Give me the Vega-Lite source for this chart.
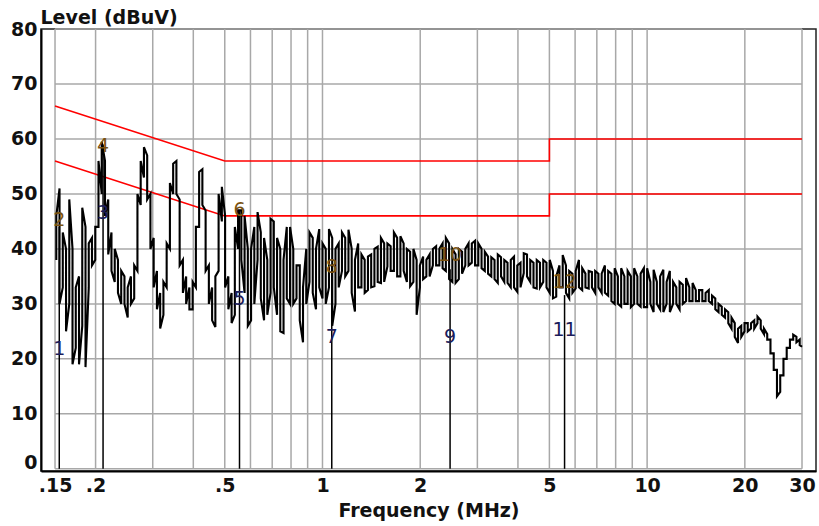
{
  "$schema": "https://vega.github.io/schema/vega-lite/v6.json",
  "width": 775,
  "height": 442,
  "autosize": "none",
  "padding": {"left": 41, "top": 29, "right": 3, "bottom": 55},
  "background": "white",
  "config": {
    "view": {"stroke": "#222", "strokeWidth": 1.5},
    "axis": {
      "labelFont": "DejaVu Sans", "labelFontWeight": "bold", "labelFontSize": 19, "labelColor": "#111",
      "titleFont": "DejaVu Sans", "titleFontWeight": "bold", "titleFontSize": 19, "titleColor": "#111",
      "grid": false, "ticks": false, "tickSize": 0, "domainColor": "#000", "domainWidth": 2,
      "labelOverlap": false, "labelFlush": false, "labelBound": false
    }
  },
  "datasets": {
    "vgrid": [{"f":0.15},{"f":0.2},{"f":0.3},{"f":0.4},{"f":0.5},{"f":0.6},{"f":0.7},{"f":0.8},{"f":0.9},{"f":1},{"f":2},{"f":3},{"f":4},{"f":5},{"f":6},{"f":7},{"f":8},{"f":9},{"f":10},{"f":20},{"f":30}],
    "hgrid": [{"v":0},{"v":10},{"v":20},{"v":30},{"v":40},{"v":50},{"v":60},{"v":70},{"v":80}],
    "limits": [
      {"k":"qp","o":0,"f":0.15,"v":66},{"k":"qp","o":1,"f":0.5,"v":56},{"k":"qp","o":2,"f":5,"v":56},{"k":"qp","o":3,"f":5,"v":60},{"k":"qp","o":4,"f":30,"v":60},
      {"k":"av","o":0,"f":0.15,"v":56},{"k":"av","o":1,"f":0.5,"v":46},{"k":"av","o":2,"f":5,"v":46},{"k":"av","o":3,"f":5,"v":50},{"k":"av","o":4,"f":30,"v":50}
    ],
    "markers": [
      {"f":0.1546,"v":44},{"f":0.2109,"v":59},{"f":0.5551,"v":47},{"f":1.068,"v":37},{"f":2.472,"v":36.3},{"f":5.568,"v":31.6}
    ],
    "labels": [
      {"n":"1","f":0.1546,"v":21.8},{"n":"2","f":0.1546,"v":45.3},{"n":"3","f":0.2109,"v":46.5},{"n":"4","f":0.2109,"v":58.7},
      {"n":"5","f":0.5551,"v":30.9},{"n":"6","f":0.5551,"v":47.1},{"n":"7","f":1.068,"v":24},{"n":"8","f":1.068,"v":36.7},
      {"n":"9","f":2.472,"v":24},{"n":"10","f":2.472,"v":38.9},{"n":"11","f":5.568,"v":25.3},{"n":"12","f":5.568,"v":34}
    ],
    "trace": [
{"i":0,"f":0.15136,"v":38},{"i":1,"f":0.15136,"v":46},{"i":2,"f":0.15488,"v":51},{"i":3,"f":0.15488,"v":30},
{"i":4,"f":0.15849,"v":33},{"i":5,"f":0.15849,"v":43},{"i":6,"f":0.16218,"v":40},{"i":7,"f":0.16218,"v":25},
{"i":8,"f":0.16596,"v":30},{"i":9,"f":0.16596,"v":49},{"i":10,"f":0.16982,"v":40},{"i":11,"f":0.16982,"v":19},
{"i":12,"f":0.17378,"v":22},{"i":13,"f":0.17378,"v":33},{"i":14,"f":0.17783,"v":35},{"i":15,"f":0.17783,"v":19},
{"i":16,"f":0.18197,"v":26},{"i":17,"f":0.18197,"v":47.5},{"i":18,"f":0.18621,"v":44},{"i":19,"f":0.18621,"v":18.5},
{"i":20,"f":0.19055,"v":33},{"i":21,"f":0.19055,"v":41},{"i":22,"f":0.19498,"v":42},{"i":23,"f":0.19498,"v":37},
{"i":24,"f":0.19953,"v":38},{"i":25,"f":0.19953,"v":44},{"i":26,"f":0.20417,"v":44},{"i":27,"f":0.20417,"v":56},
{"i":28,"f":0.20893,"v":50},{"i":29,"f":0.20893,"v":59.5},{"i":30,"f":0.2138,"v":56},{"i":31,"f":0.2138,"v":46},
{"i":32,"f":0.21878,"v":49},{"i":33,"f":0.21878,"v":39},{"i":34,"f":0.22387,"v":43},{"i":35,"f":0.22387,"v":36},
{"i":36,"f":0.22909,"v":34},{"i":37,"f":0.22909,"v":40},{"i":38,"f":0.23442,"v":38},{"i":39,"f":0.23442,"v":32},
{"i":40,"f":0.23988,"v":30},{"i":41,"f":0.23988,"v":36},{"i":42,"f":0.24547,"v":35},{"i":43,"f":0.24547,"v":30},
{"i":44,"f":0.25119,"v":27.5},{"i":45,"f":0.25119,"v":33},{"i":46,"f":0.25704,"v":35},{"i":47,"f":0.25704,"v":30},
{"i":48,"f":0.26303,"v":31},{"i":49,"f":0.26303,"v":37},{"i":50,"f":0.26915,"v":36},{"i":51,"f":0.26915,"v":50},
{"i":52,"f":0.27542,"v":48},{"i":53,"f":0.27542,"v":56},{"i":54,"f":0.28184,"v":53},{"i":55,"f":0.28184,"v":58.5},
{"i":56,"f":0.2884,"v":57},{"i":57,"f":0.2884,"v":49},{"i":58,"f":0.29512,"v":50},{"i":59,"f":0.29512,"v":40},
{"i":60,"f":0.302,"v":42},{"i":61,"f":0.302,"v":33},{"i":62,"f":0.30903,"v":36},{"i":63,"f":0.30903,"v":29},
{"i":64,"f":0.31623,"v":32},{"i":65,"f":0.31623,"v":25.5},{"i":66,"f":0.32359,"v":28},{"i":67,"f":0.32359,"v":34},
{"i":68,"f":0.33113,"v":33},{"i":69,"f":0.33113,"v":41},{"i":70,"f":0.33884,"v":40},{"i":71,"f":0.33884,"v":52},
{"i":72,"f":0.34674,"v":50},{"i":73,"f":0.34674,"v":55.5},{"i":74,"f":0.35481,"v":56},{"i":75,"f":0.35481,"v":50},
{"i":76,"f":0.36308,"v":49},{"i":77,"f":0.36308,"v":37},{"i":78,"f":0.37154,"v":38},{"i":79,"f":0.37154,"v":32},
{"i":80,"f":0.38019,"v":35},{"i":81,"f":0.38019,"v":30},{"i":82,"f":0.38905,"v":33},{"i":83,"f":0.38905,"v":29},
{"i":84,"f":0.39811,"v":29},{"i":85,"f":0.39811,"v":34},{"i":86,"f":0.40738,"v":33},{"i":87,"f":0.40738,"v":44},
{"i":88,"f":0.41687,"v":44},{"i":89,"f":0.41687,"v":54},{"i":90,"f":0.42658,"v":54.5},{"i":91,"f":0.42658,"v":48},
{"i":92,"f":0.43652,"v":47},{"i":93,"f":0.43652,"v":36},{"i":94,"f":0.44668,"v":37},{"i":95,"f":0.44668,"v":30},
{"i":96,"f":0.45709,"v":33},{"i":97,"f":0.45709,"v":27},{"i":98,"f":0.46774,"v":25.8},{"i":99,"f":0.46774,"v":35},
{"i":100,"f":0.47863,"v":36},{"i":101,"f":0.47863,"v":50},{"i":102,"f":0.48978,"v":45},{"i":103,"f":0.48978,"v":51.3},
{"i":104,"f":0.50119,"v":46},{"i":105,"f":0.50119,"v":33},{"i":106,"f":0.51286,"v":35},{"i":107,"f":0.51286,"v":29},
{"i":108,"f":0.52481,"v":32},{"i":109,"f":0.52481,"v":26.5},{"i":110,"f":0.53703,"v":28},{"i":111,"f":0.53703,"v":44},
{"i":112,"f":0.54954,"v":40},{"i":113,"f":0.54954,"v":47},{"i":114,"f":0.56234,"v":47},{"i":115,"f":0.56234,"v":38},
{"i":116,"f":0.57544,"v":32},{"i":117,"f":0.57544,"v":46},{"i":118,"f":0.58884,"v":40},{"i":119,"f":0.58884,"v":26},
{"i":120,"f":0.60256,"v":27},{"i":121,"f":0.60256,"v":40},{"i":122,"f":0.6166,"v":44},{"i":123,"f":0.6166,"v":30},
{"i":124,"f":0.63096,"v":38},{"i":125,"f":0.63096,"v":46.7},{"i":126,"f":0.64565,"v":43},{"i":127,"f":0.64565,"v":31},
{"i":128,"f":0.66069,"v":27},{"i":129,"f":0.66069,"v":42},{"i":130,"f":0.67608,"v":38},{"i":131,"f":0.67608,"v":28},
{"i":132,"f":0.69183,"v":32},{"i":133,"f":0.69183,"v":45.5},{"i":134,"f":0.70795,"v":45},{"i":135,"f":0.70795,"v":33},
{"i":136,"f":0.72444,"v":28},{"i":137,"f":0.72444,"v":42},{"i":138,"f":0.74131,"v":40},{"i":139,"f":0.74131,"v":25},
{"i":140,"f":0.75858,"v":24.7},{"i":141,"f":0.75858,"v":38},{"i":142,"f":0.77625,"v":44},{"i":143,"f":0.77625,"v":31},
{"i":144,"f":0.79433,"v":30},{"i":145,"f":0.79433,"v":44},{"i":146,"f":0.81283,"v":40},{"i":147,"f":0.81283,"v":30},
{"i":148,"f":0.83176,"v":31},{"i":149,"f":0.83176,"v":37},{"i":150,"f":0.85114,"v":37},{"i":151,"f":0.85114,"v":27},
{"i":152,"f":0.87096,"v":23},{"i":153,"f":0.87096,"v":33},{"i":154,"f":0.89125,"v":40},{"i":155,"f":0.89125,"v":30},
{"i":156,"f":0.91201,"v":34},{"i":157,"f":0.91201,"v":43},{"i":158,"f":0.93325,"v":42},{"i":159,"f":0.93325,"v":32},
{"i":160,"f":0.95499,"v":29},{"i":161,"f":0.95499,"v":40},{"i":162,"f":0.97724,"v":43.6},{"i":163,"f":0.97724,"v":33},
{"i":164,"f":1.0,"v":31},{"i":165,"f":1.0,"v":41},{"i":166,"f":1.0233,"v":40},{"i":167,"f":1.0233,"v":30},
{"i":168,"f":1.0471,"v":33},{"i":169,"f":1.0471,"v":43.6},{"i":170,"f":1.0715,"v":42},{"i":171,"f":1.0715,"v":26},
{"i":172,"f":1.0965,"v":30},{"i":173,"f":1.0965,"v":40},{"i":174,"f":1.122,"v":41},{"i":175,"f":1.122,"v":33},
{"i":176,"f":1.1482,"v":36},{"i":177,"f":1.1482,"v":43},{"i":178,"f":1.1749,"v":42},{"i":179,"f":1.1749,"v":35},
{"i":180,"f":1.2023,"v":36},{"i":181,"f":1.2023,"v":43.5},{"i":182,"f":1.2303,"v":40},{"i":183,"f":1.2303,"v":32},
{"i":184,"f":1.2589,"v":28.6},{"i":185,"f":1.2589,"v":38},{"i":186,"f":1.2882,"v":41},{"i":187,"f":1.2882,"v":33},
{"i":188,"f":1.3183,"v":33},{"i":189,"f":1.3183,"v":39},{"i":190,"f":1.349,"v":38},{"i":191,"f":1.349,"v":32},
{"i":192,"f":1.3804,"v":32.5},{"i":193,"f":1.3804,"v":38.6},{"i":194,"f":1.4125,"v":39},{"i":195,"f":1.4125,"v":33},
{"i":196,"f":1.4454,"v":33.2},{"i":197,"f":1.4454,"v":40},{"i":198,"f":1.4791,"v":40.4},{"i":199,"f":1.4791,"v":34},
{"i":200,"f":1.5136,"v":33.8},{"i":201,"f":1.5136,"v":42},{"i":202,"f":1.5488,"v":41},{"i":203,"f":1.5488,"v":34},
{"i":204,"f":1.5849,"v":36.8},{"i":205,"f":1.5849,"v":41},{"i":206,"f":1.6218,"v":40.5},{"i":207,"f":1.6218,"v":36},
{"i":208,"f":1.6596,"v":36},{"i":209,"f":1.6596,"v":43},{"i":210,"f":1.6982,"v":42},{"i":211,"f":1.6982,"v":35},
{"i":212,"f":1.7378,"v":35},{"i":213,"f":1.7378,"v":42.3},{"i":214,"f":1.7783,"v":41},{"i":215,"f":1.7783,"v":36},
{"i":216,"f":1.8197,"v":34},{"i":217,"f":1.8197,"v":40},{"i":218,"f":1.8621,"v":39.5},{"i":219,"f":1.8621,"v":33.2},
{"i":220,"f":1.9055,"v":34},{"i":221,"f":1.9055,"v":40},{"i":222,"f":1.9498,"v":38},{"i":223,"f":1.9498,"v":28},
{"i":224,"f":1.9953,"v":33},{"i":225,"f":1.9953,"v":37},{"i":226,"f":2.0417,"v":38.6},{"i":227,"f":2.0417,"v":34.5},
{"i":228,"f":2.0893,"v":35},{"i":229,"f":2.0893,"v":38},{"i":230,"f":2.138,"v":39},{"i":231,"f":2.138,"v":35},
{"i":232,"f":2.1878,"v":37},{"i":233,"f":2.1878,"v":40},{"i":234,"f":2.2387,"v":40.5},{"i":235,"f":2.2387,"v":37},
{"i":236,"f":2.2909,"v":37},{"i":237,"f":2.2909,"v":40},{"i":238,"f":2.3442,"v":41},{"i":239,"f":2.3442,"v":36.5},
{"i":240,"f":2.3988,"v":36},{"i":241,"f":2.3988,"v":42},{"i":242,"f":2.4547,"v":41},{"i":243,"f":2.4547,"v":34.5},
{"i":244,"f":2.5119,"v":34},{"i":245,"f":2.5119,"v":40},{"i":246,"f":2.5704,"v":39},{"i":247,"f":2.5704,"v":33.8},
{"i":248,"f":2.6303,"v":34.5},{"i":249,"f":2.6303,"v":40},{"i":250,"f":2.6915,"v":39.5},{"i":251,"f":2.6915,"v":35.5},
{"i":252,"f":2.7542,"v":37},{"i":253,"f":2.7542,"v":40},{"i":254,"f":2.8184,"v":41},{"i":255,"f":2.8184,"v":37},
{"i":256,"f":2.884,"v":37.5},{"i":257,"f":2.884,"v":41},{"i":258,"f":2.9512,"v":41.5},{"i":259,"f":2.9512,"v":37},
{"i":260,"f":3.02,"v":37},{"i":261,"f":3.02,"v":41},{"i":262,"f":3.0903,"v":40},{"i":263,"f":3.0903,"v":36.5},
{"i":264,"f":3.1623,"v":36},{"i":265,"f":3.1623,"v":39.5},{"i":266,"f":3.2359,"v":38.6},{"i":267,"f":3.2359,"v":35.5},
{"i":268,"f":3.3113,"v":35},{"i":269,"f":3.3113,"v":38.5},{"i":270,"f":3.3884,"v":38},{"i":271,"f":3.3884,"v":34.5},
{"i":272,"f":3.4674,"v":33.8},{"i":273,"f":3.4674,"v":39},{"i":274,"f":3.5481,"v":38.5},{"i":275,"f":3.5481,"v":35},
{"i":276,"f":3.6308,"v":34},{"i":277,"f":3.6308,"v":38},{"i":278,"f":3.7154,"v":37.5},{"i":279,"f":3.7154,"v":33.8},
{"i":280,"f":3.8019,"v":33},{"i":281,"f":3.8019,"v":38},{"i":282,"f":3.8905,"v":38.6},{"i":283,"f":3.8905,"v":33},
{"i":284,"f":3.9811,"v":32.2},{"i":285,"f":3.9811,"v":37},{"i":286,"f":4.0738,"v":37.5},{"i":287,"f":4.0738,"v":33},
{"i":288,"f":4.1687,"v":35.6},{"i":289,"f":4.1687,"v":39.2},{"i":290,"f":4.2658,"v":39},{"i":291,"f":4.2658,"v":35},
{"i":292,"f":4.3652,"v":34},{"i":293,"f":4.3652,"v":38},{"i":294,"f":4.4668,"v":37.5},{"i":295,"f":4.4668,"v":33},
{"i":296,"f":4.5709,"v":32.8},{"i":297,"f":4.5709,"v":38},{"i":298,"f":4.6774,"v":37.5},{"i":299,"f":4.6774,"v":33},
{"i":300,"f":4.7863,"v":34},{"i":301,"f":4.7863,"v":38},{"i":302,"f":4.8978,"v":37.5},{"i":303,"f":4.8978,"v":33},
{"i":304,"f":5.0119,"v":32},{"i":305,"f":5.0119,"v":38},{"i":306,"f":5.1286,"v":36},{"i":307,"f":5.1286,"v":31},
{"i":308,"f":5.2481,"v":31.3},{"i":309,"f":5.2481,"v":35},{"i":310,"f":5.3703,"v":37},{"i":311,"f":5.3703,"v":33},
{"i":312,"f":5.4954,"v":33},{"i":313,"f":5.4954,"v":38.9},{"i":314,"f":5.6234,"v":37},{"i":315,"f":5.6234,"v":32},
{"i":316,"f":5.7544,"v":31},{"i":317,"f":5.7544,"v":36},{"i":318,"f":5.8884,"v":35.5},{"i":319,"f":5.8884,"v":32},
{"i":320,"f":6.0256,"v":32.8},{"i":321,"f":6.0256,"v":36},{"i":322,"f":6.166,"v":38},{"i":323,"f":6.166,"v":33},
{"i":324,"f":6.3096,"v":32.5},{"i":325,"f":6.3096,"v":36.5},{"i":326,"f":6.4565,"v":35.5},{"i":327,"f":6.4565,"v":33},
{"i":328,"f":6.6069,"v":32.8},{"i":329,"f":6.6069,"v":36},{"i":330,"f":6.7608,"v":35.8},{"i":331,"f":6.7608,"v":33},
{"i":332,"f":6.9183,"v":32},{"i":333,"f":6.9183,"v":36},{"i":334,"f":7.0795,"v":35.5},{"i":335,"f":7.0795,"v":33},
{"i":336,"f":7.2444,"v":32},{"i":337,"f":7.2444,"v":35.5},{"i":338,"f":7.4131,"v":37},{"i":339,"f":7.4131,"v":32},
{"i":340,"f":7.5858,"v":31.5},{"i":341,"f":7.5858,"v":36},{"i":342,"f":7.7625,"v":35.5},{"i":343,"f":7.7625,"v":30.5},
{"i":344,"f":7.9433,"v":30},{"i":345,"f":7.9433,"v":36.5},{"i":346,"f":8.1283,"v":35},{"i":347,"f":8.1283,"v":30},
{"i":348,"f":8.3176,"v":29.5},{"i":349,"f":8.3176,"v":36.5},{"i":350,"f":8.5114,"v":35},{"i":351,"f":8.5114,"v":30},
{"i":352,"f":8.7096,"v":30},{"i":353,"f":8.7096,"v":36},{"i":354,"f":8.9125,"v":35},{"i":355,"f":8.9125,"v":29.4},
{"i":356,"f":9.1201,"v":30},{"i":357,"f":9.1201,"v":36.5},{"i":358,"f":9.3325,"v":35},{"i":359,"f":9.3325,"v":30},
{"i":360,"f":9.5499,"v":29.5},{"i":361,"f":9.5499,"v":35.5},{"i":362,"f":9.7724,"v":36.5},{"i":363,"f":9.7724,"v":29.4},
{"i":364,"f":10,"v":29.4},{"i":365,"f":10,"v":36.5},{"i":366,"f":10.233,"v":34},{"i":367,"f":10.233,"v":30},
{"i":368,"f":10.471,"v":28.5},{"i":369,"f":10.471,"v":36.2},{"i":370,"f":10.715,"v":34},{"i":371,"f":10.715,"v":30},
{"i":372,"f":10.965,"v":29},{"i":373,"f":10.965,"v":35},{"i":374,"f":11.22,"v":36.2},{"i":375,"f":11.22,"v":28.5},
{"i":376,"f":11.482,"v":30},{"i":377,"f":11.482,"v":34},{"i":378,"f":11.749,"v":36},{"i":379,"f":11.749,"v":28.5},
{"i":380,"f":12.023,"v":30},{"i":381,"f":12.023,"v":34},{"i":382,"f":12.303,"v":33},{"i":383,"f":12.303,"v":30},
{"i":384,"f":12.589,"v":29},{"i":385,"f":12.589,"v":34},{"i":386,"f":12.882,"v":33.5},{"i":387,"f":12.882,"v":30},
{"i":388,"f":13.183,"v":30.5},{"i":389,"f":13.183,"v":34.7},{"i":390,"f":13.49,"v":33},{"i":391,"f":13.49,"v":30.5},
{"i":392,"f":13.804,"v":30.5},{"i":393,"f":13.804,"v":33.8},{"i":394,"f":14.125,"v":32.5},{"i":395,"f":14.125,"v":30.5},
{"i":396,"f":14.454,"v":30.5},{"i":397,"f":14.454,"v":32.5},{"i":398,"f":14.791,"v":32.5},{"i":399,"f":14.791,"v":30.5},
{"i":400,"f":15.136,"v":30.5},{"i":401,"f":15.136,"v":32},{"i":402,"f":15.488,"v":32.5},{"i":403,"f":15.488,"v":30.5},
{"i":404,"f":15.849,"v":30},{"i":405,"f":15.849,"v":31.5},{"i":406,"f":16.218,"v":31},{"i":407,"f":16.218,"v":29},
{"i":408,"f":16.596,"v":28.5},{"i":409,"f":16.596,"v":30},{"i":410,"f":16.982,"v":29.5},{"i":411,"f":16.982,"v":28},
{"i":412,"f":17.378,"v":27.5},{"i":413,"f":17.378,"v":29},{"i":414,"f":17.783,"v":28.5},{"i":415,"f":17.783,"v":26.5},
{"i":416,"f":18.197,"v":25.5},{"i":417,"f":18.197,"v":27.5},{"i":418,"f":18.621,"v":26.5},{"i":419,"f":18.621,"v":24},
{"i":420,"f":19.055,"v":22.9},{"i":421,"f":19.055,"v":25.5},{"i":422,"f":19.498,"v":26},{"i":423,"f":19.498,"v":24},
{"i":424,"f":19.953,"v":25},{"i":425,"f":19.953,"v":26.5},{"i":426,"f":20.417,"v":26.5},{"i":427,"f":20.417,"v":25},
{"i":428,"f":20.893,"v":25.5},{"i":429,"f":20.893,"v":26.5},{"i":430,"f":21.38,"v":27},{"i":431,"f":21.38,"v":25.5},
{"i":432,"f":21.878,"v":26.5},{"i":433,"f":21.878,"v":27.7},{"i":434,"f":22.387,"v":27},{"i":435,"f":22.387,"v":25.5},
{"i":436,"f":22.909,"v":24.5},{"i":437,"f":22.909,"v":25.5},{"i":438,"f":23.442,"v":24.5},{"i":439,"f":23.442,"v":23.5},
{"i":440,"f":23.988,"v":23.5},{"i":441,"f":23.988,"v":21},{"i":442,"f":24.547,"v":21},{"i":443,"f":24.547,"v":18},
{"i":444,"f":25.119,"v":18},{"i":445,"f":25.119,"v":13.2},{"i":446,"f":25.704,"v":14},{"i":447,"f":25.704,"v":17},
{"i":448,"f":26.303,"v":17},{"i":449,"f":26.303,"v":20},{"i":450,"f":26.915,"v":20},{"i":451,"f":26.915,"v":22},
{"i":452,"f":27.542,"v":22},{"i":453,"f":27.542,"v":23.5},{"i":454,"f":28.184,"v":23.5},{"i":455,"f":28.184,"v":24.4},
{"i":456,"f":28.84,"v":24},{"i":457,"f":28.84,"v":23},{"i":458,"f":29.512,"v":23.5},{"i":459,"f":29.512,"v":22.5},
{"i":460,"f":30,"v":22.2}
    ]
  },
  "layer": [
    {
      "data": {"name": "vgrid"},
      "mark": {"type": "rule", "color": "#a8a8a8", "strokeWidth": 1.5},
      "encoding": {
        "x": {
          "field": "f", "type": "quantitative",
          "scale": {"type": "log", "domain": [0.1358, 33.13], "nice": false},
          "axis": {
            "values": [0.15,0.2,0.3,0.4,0.5,0.6,0.7,0.8,0.9,1,2,3,4,5,6,7,8,9,10,20,30],
            "labelExpr": "datum.value == 0.15 ? '.15' : datum.value == 0.2 ? '.2' : datum.value == 0.5 ? '.5' : (datum.value == 1 || datum.value == 2 || datum.value == 5 || datum.value == 10 || datum.value == 20 || datum.value == 30) ? '' + datum.value : ''",
            "labelPadding": 5,
            "title": "Frequency (MHz)",
            "titlePadding": 6
          }
        },
        "y": {
          "datum": 0, "type": "quantitative",
          "scale": {"domain": [-0.4, 80], "nice": false, "zero": false},
          "axis": {
            "values": [0,10,20,30,40,50,60,70,80],
            "labelPadding": 4,
            "labelBaseline": {"condition": {"test": "datum.value == 0", "value": "alphabetic"}, "value": "middle"},
            "title": "Level (dBuV)",
            "titleAngle": 0, "titleAlign": "left", "titleBaseline": "alphabetic",
            "titleX": -1, "titleY": -6
          }
        },
        "y2": {"datum": 80}
      }
    },
    {
      "data": {"name": "hgrid"},
      "mark": {"type": "rule", "color": "#a8a8a8", "strokeWidth": 1.5},
      "encoding": {
        "y": {"field": "v", "type": "quantitative"},
        "x": {"datum": 0.15, "type": "quantitative"},
        "x2": {"datum": 30}
      }
    },
    {
      "data": {"name": "limits"},
      "mark": {"type": "line", "color": "#ff0000", "strokeWidth": 1.6},
      "encoding": {
        "x": {"field": "f", "type": "quantitative"},
        "y": {"field": "v", "type": "quantitative"},
        "detail": {"field": "k"},
        "order": {"field": "o"}
      }
    },
    {
      "data": {"name": "trace"},
      "mark": {"type": "line", "color": "#000000", "strokeWidth": 2.1},
      "encoding": {
        "x": {"field": "f", "type": "quantitative"},
        "y": {"field": "v", "type": "quantitative"},
        "order": {"field": "i"}
      }
    },
    {
      "data": {"name": "markers"},
      "mark": {"type": "rule", "color": "#000000", "strokeWidth": 1.5},
      "encoding": {
        "x": {"field": "f", "type": "quantitative"},
        "y": {"field": "v", "type": "quantitative"},
        "y2": {"datum": 0}
      }
    },
    {
      "data": {"name": "labels"},
      "mark": {"type": "text", "font": "DejaVu Sans", "fontSize": 19, "align": "center", "baseline": "middle"},
      "encoding": {
        "x": {"field": "f", "type": "quantitative"},
        "y": {"field": "v", "type": "quantitative"},
        "text": {"field": "n"},
        "color": {"condition": {"test": "toNumber(datum.n) % 2 == 1", "value": "#1c1c5a"}, "value": "#7a5210"}
      }
    }
  ]
}
